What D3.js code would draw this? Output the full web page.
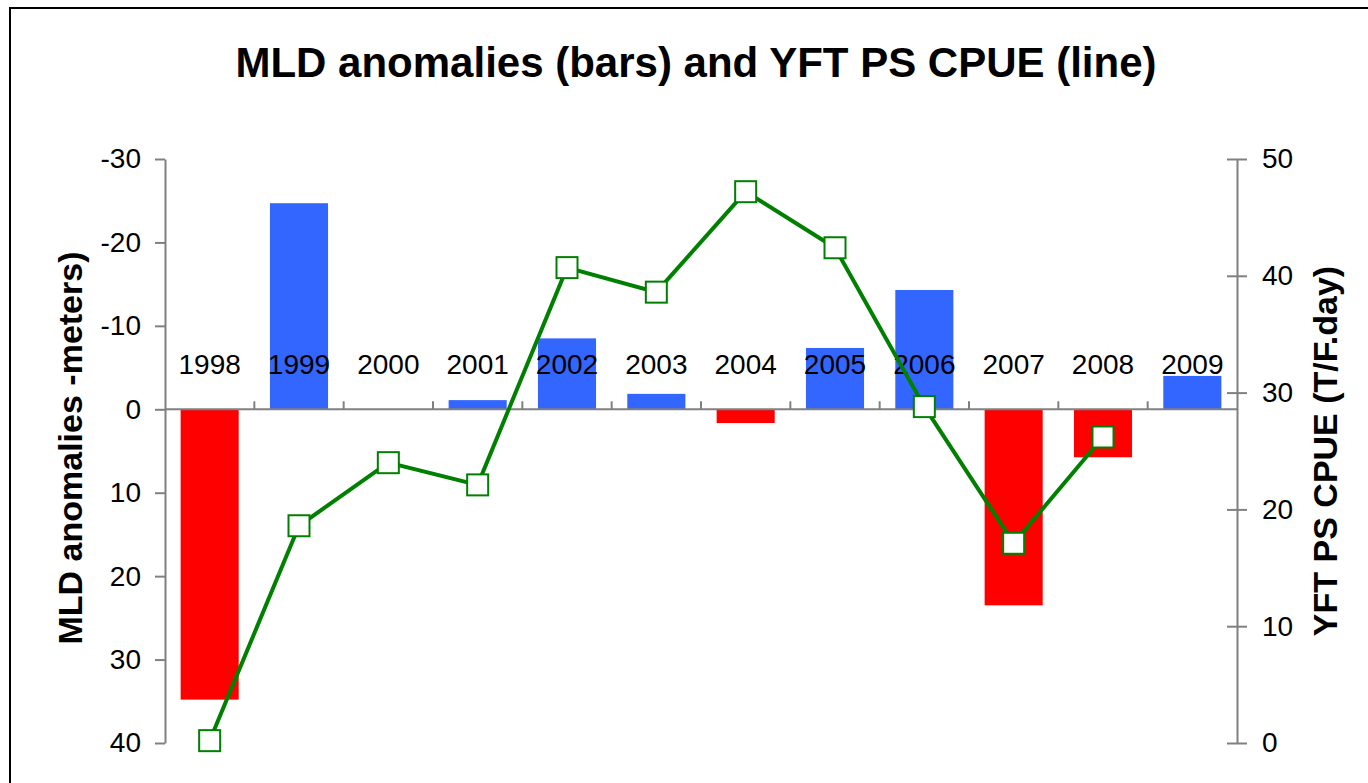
<!DOCTYPE html>
<html>
<head>
<meta charset="utf-8">
<script src="https://cdn.jsdelivr.net/npm/d3@7"></script>
<style>
  body { margin: 0; background: #fff; }
  svg { display: block; font-family: Arial, "Liberation Sans", sans-serif; }
</style>
</head>
<body>
<svg width="1368" height="783"></svg>
<script>
const years = ["1998","1999","2000","2001","2002","2003","2004","2005","2006","2007","2008","2009"];
// MLD anomalies (meters), negative = shallower (drawn upward)
const mld = [34.8, -24.7, 0, -1.1, -8.5, -1.85, 1.65, -7.35, -14.3, 23.5, 5.75, -4.0];
// YFT PS CPUE (T/F.day), no value for 2009
const cpue = [0.2, 18.6, 24.0, 22.1, 40.7, 38.6, 47.2, 42.4, 28.8, 17.1, 26.2];
const leftTicks = [-30, -20, -10, 0, 10, 20, 30, 40];
const rightTicks = [0, 10, 20, 30, 40, 50];

const svg = d3.select("svg");
const axisGray = "#808080";

// outer border
svg.append("rect")
  .attr("x", 10).attr("y", 8)
  .attr("width", 1400).attr("height", 800)
  .attr("fill", "none").attr("stroke", "#000").attr("stroke-width", 2);

const x = d3.scaleBand().domain(years).range([165, 1237])
  .paddingInner(0.35).paddingOuter(0.175);
const yL = d3.scaleLinear().domain([-30, 40]).range([159, 743]);
const yR = d3.scaleLinear().domain([0, 50]).range([743, 159]);

// title
svg.append("text")
  .attr("x", 696).attr("y", 77)
  .attr("text-anchor", "middle")
  .attr("font-size", 42).attr("font-weight", "bold")
  .text("MLD anomalies (bars) and YFT PS CPUE (line)");

// bars
svg.append("g").selectAll("rect")
  .data(years.map((y, i) => ({ year: y, v: mld[i] })))
  .enter().append("rect")
  .attr("x", d => x(d.year))
  .attr("width", x.bandwidth())
  .attr("y", d => yL(Math.min(0, d.v)))
  .attr("height", d => Math.abs(yL(d.v) - yL(0)))
  .attr("fill", d => d.v > 0 ? "#ff0000" : "#3366ff");

// left axis
const gL = svg.append("g")
  .attr("transform", "translate(165,0)")
  .call(d3.axisLeft(yL).tickValues(leftTicks).tickFormat(d => String(d))
    .tickSize(10).tickSizeOuter(0).tickPadding(14));
gL.select(".domain").attr("stroke", axisGray).attr("stroke-width", 2);
gL.selectAll(".tick line").attr("stroke", axisGray).attr("stroke-width", 2);
gL.selectAll(".tick text").attr("font-size", 28).attr("fill", "#000")
  .attr("font-family", "Arial, 'Liberation Sans', sans-serif");

// right axis (ticks cross the line)
const gR = svg.append("g")
  .attr("transform", "translate(1237,0)")
  .call(d3.axisRight(yR).tickValues(rightTicks).tickFormat(d => String(d))
    .tickSize(10).tickSizeOuter(0).tickPadding(15));
gR.select(".domain").attr("stroke", axisGray).attr("stroke-width", 2);
gR.selectAll(".tick line").attr("x1", -10).attr("stroke", axisGray).attr("stroke-width", 2);
gR.selectAll(".tick text").attr("font-size", 28).attr("fill", "#000")
  .attr("font-family", "Arial, 'Liberation Sans', sans-serif");

// zero line with category ticks
const y0 = yL(0);
svg.append("line")
  .attr("x1", 165).attr("x2", 1237)
  .attr("y1", y0).attr("y2", y0)
  .attr("stroke", axisGray).attr("stroke-width", 2);
svg.append("g").selectAll("line")
  .data(years.slice(1))
  .enter().append("line")
  .attr("x1", d => x(d) - x.step() * x.paddingInner() / 2)
  .attr("x2", d => x(d) - x.step() * x.paddingInner() / 2)
  .attr("y1", y0 - 8).attr("y2", y0)
  .attr("stroke", axisGray).attr("stroke-width", 2);

// category labels
svg.append("g").selectAll("text")
  .data(years)
  .enter().append("text")
  .attr("x", d => x(d) + x.bandwidth() / 2)
  .attr("y", y0 - 35)
  .attr("text-anchor", "middle")
  .attr("font-size", 28)
  .text(d => d);

// CPUE line
const pts = cpue.map((v, i) => ({ year: years[i], v }));
svg.append("path")
  .datum(pts)
  .attr("fill", "none")
  .attr("stroke", "#008000")
  .attr("stroke-width", 4)
  .attr("d", d3.line().x(d => x(d.year) + x.bandwidth() / 2).y(d => yR(d.v)));

svg.append("g").selectAll("rect")
  .data(pts)
  .enter().append("rect")
  .attr("x", d => x(d.year) + x.bandwidth() / 2 - 10.5)
  .attr("y", d => yR(d.v) - 10.5)
  .attr("width", 21).attr("height", 21)
  .attr("fill", "#fff").attr("stroke", "#008000").attr("stroke-width", 2);

// axis titles
svg.append("text")
  .attr("transform", "translate(82,448) rotate(-90)")
  .attr("text-anchor", "middle")
  .attr("font-size", 34).attr("font-weight", "bold")
  .text("MLD anomalies -meters)");

svg.append("text")
  .attr("transform", "translate(1337,451) rotate(-90)")
  .attr("text-anchor", "middle")
  .attr("font-size", 34).attr("font-weight", "bold")
  .text("YFT PS CPUE (T/F.day)");
</script>
</body>
</html>
